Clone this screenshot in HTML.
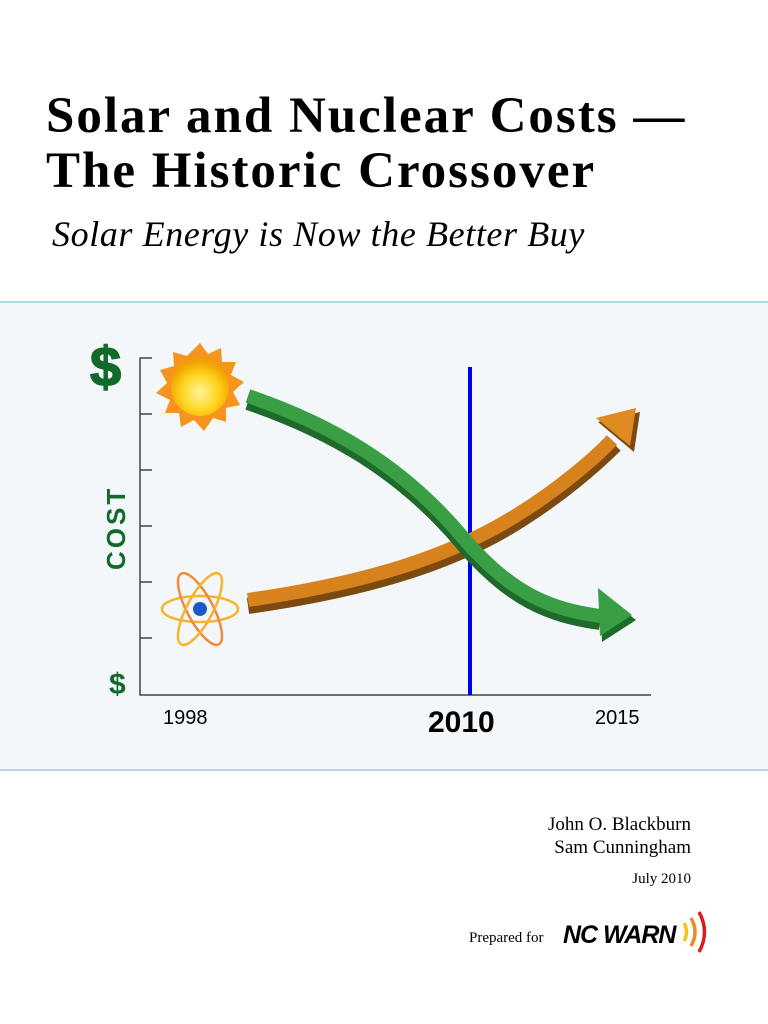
<!DOCTYPE html>
<html><head><meta charset="utf-8"><style>
body{margin:0;width:768px;height:1024px;background:#fff;position:relative;overflow:hidden;font-family:"Liberation Serif",serif}
.t{position:absolute;left:46px;font-weight:bold;font-size:51px;letter-spacing:2px;color:#000;line-height:1;white-space:nowrap}
</style></head><body>
<div class="t" style="top:91px">Solar and Nuclear Costs —</div>
<div class="t" style="top:146px">The Historic Crossover</div>
<div style="position:absolute;left:52px;top:213px;font-style:italic;font-size:36px;letter-spacing:0.6px;white-space:nowrap">Solar Energy is Now the Better Buy</div>
<div style="position:absolute;left:0;top:301px;width:768px;height:466px;background:#f3f7fa;border-top:2px solid #a9dce4;border-bottom:2px solid #a9dce4"></div>
<svg style="position:absolute;left:0;top:0" width="768" height="1024">
<defs><radialGradient id="s" cx="50%" cy="60%" r="55%"><stop offset="0" stop-color="#fff59a"/><stop offset="0.6" stop-color="#ffd21c"/><stop offset="1" stop-color="#f0a000"/></radialGradient></defs>
<g stroke="#444" stroke-width="1.5" fill="none">
<path d="M152 358H140V695H651"/>
<path d="M140 414h12M140 470h12M140 526h12M140 582h12M140 638h12"/>
</g>
<text x="90" y="386" font-family="Liberation Sans" font-weight="bold" font-size="56" fill="#116a2a" stroke="#116a2a" stroke-width="1.5">$</text>
<text x="109" y="694" font-family="Liberation Sans" font-weight="bold" font-size="30" fill="#116a2a">$</text>
<text transform="translate(125,570) rotate(-90)" font-family="Liberation Sans" font-weight="bold" font-size="26" letter-spacing="3" fill="#116a2a">COST</text>
<line x1="470" y1="367" x2="470" y2="695" stroke="#0000ee" stroke-width="4"/>
<path d="M248 606 C360 590 450 565 520 520 C560 495 595 465 615 445" stroke="#7a4a10" stroke-width="16" fill="none"/>
<path d="M248 600 C360 584 450 558 520 513 C560 488 595 458 612 440" stroke="#d8821e" stroke-width="14" fill="none"/>
<polygon points="598,422 640,412 634,452" fill="#7a4a10"/>
<polygon points="596,418 636,408 630,446" fill="#e08a22"/>
<path d="M248 402 C330 430 400 470 460 540 C510 600 550 615 600 622" stroke="#1e6a2a" stroke-width="16" fill="none"/>
<path d="M248 396 C330 424 400 464 460 534 C510 594 550 609 600 616" stroke="#3a9e44" stroke-width="14" fill="none"/>
<polygon points="600,592 636,620 602,642" fill="#1e6a2a"/>
<polygon points="598,588 632,615 600,636" fill="#3a9e44"/>
<g transform="translate(200,387)">
<polygon fill="#f7941d" points="0,-44 8,-33 21,-39 22,-25 36,-25 31,-12 44,-5 33,5 40,18 26,21 26,35 13,31 4,44 -6,33 -19,40 -21,26 -35,26 -30,13 -44,6 -33,-4 -40,-17 -26,-21 -27,-35 -13,-31"/>
<circle r="29" fill="url(#s)"/>
</g>
<g transform="translate(200,609)" fill="none" stroke="#f6b42a" stroke-width="2.5">
<ellipse rx="38" ry="13"/><ellipse rx="40" ry="13" transform="rotate(62)" stroke="#f08a3a"/><ellipse rx="40" ry="13" transform="rotate(-62)"/>
<circle r="7" fill="#1a5ac8" stroke="none"/>
</g>
<text x="163" y="724" font-family="Liberation Sans" font-size="20">1998</text>
<text x="428" y="732" font-family="Liberation Sans" font-weight="bold" font-size="30">2010</text>
<text x="595" y="724" font-family="Liberation Sans" font-size="20">2015</text>
<text x="691" y="830" text-anchor="end" font-size="19">John O. Blackburn</text>
<text x="691" y="853" text-anchor="end" font-size="19">Sam Cunningham</text>
<text x="691" y="883" text-anchor="end" font-size="15">July 2010</text>
<text x="469" y="942" font-size="15">Prepared for</text>
<text x="563" y="943" font-family="Liberation Sans" font-weight="bold" font-style="italic" font-size="25" letter-spacing="-1">NC WARN</text>
<g fill="none" stroke-width="3.5"><path d="M684 923q5 9 0 18" stroke="#f6c21c"/><path d="M691 918q8 14 0 28" stroke="#f08a20"/><path d="M699 912q11 20 0 40" stroke="#d81e1e"/></g>
</svg>
</body></html>
